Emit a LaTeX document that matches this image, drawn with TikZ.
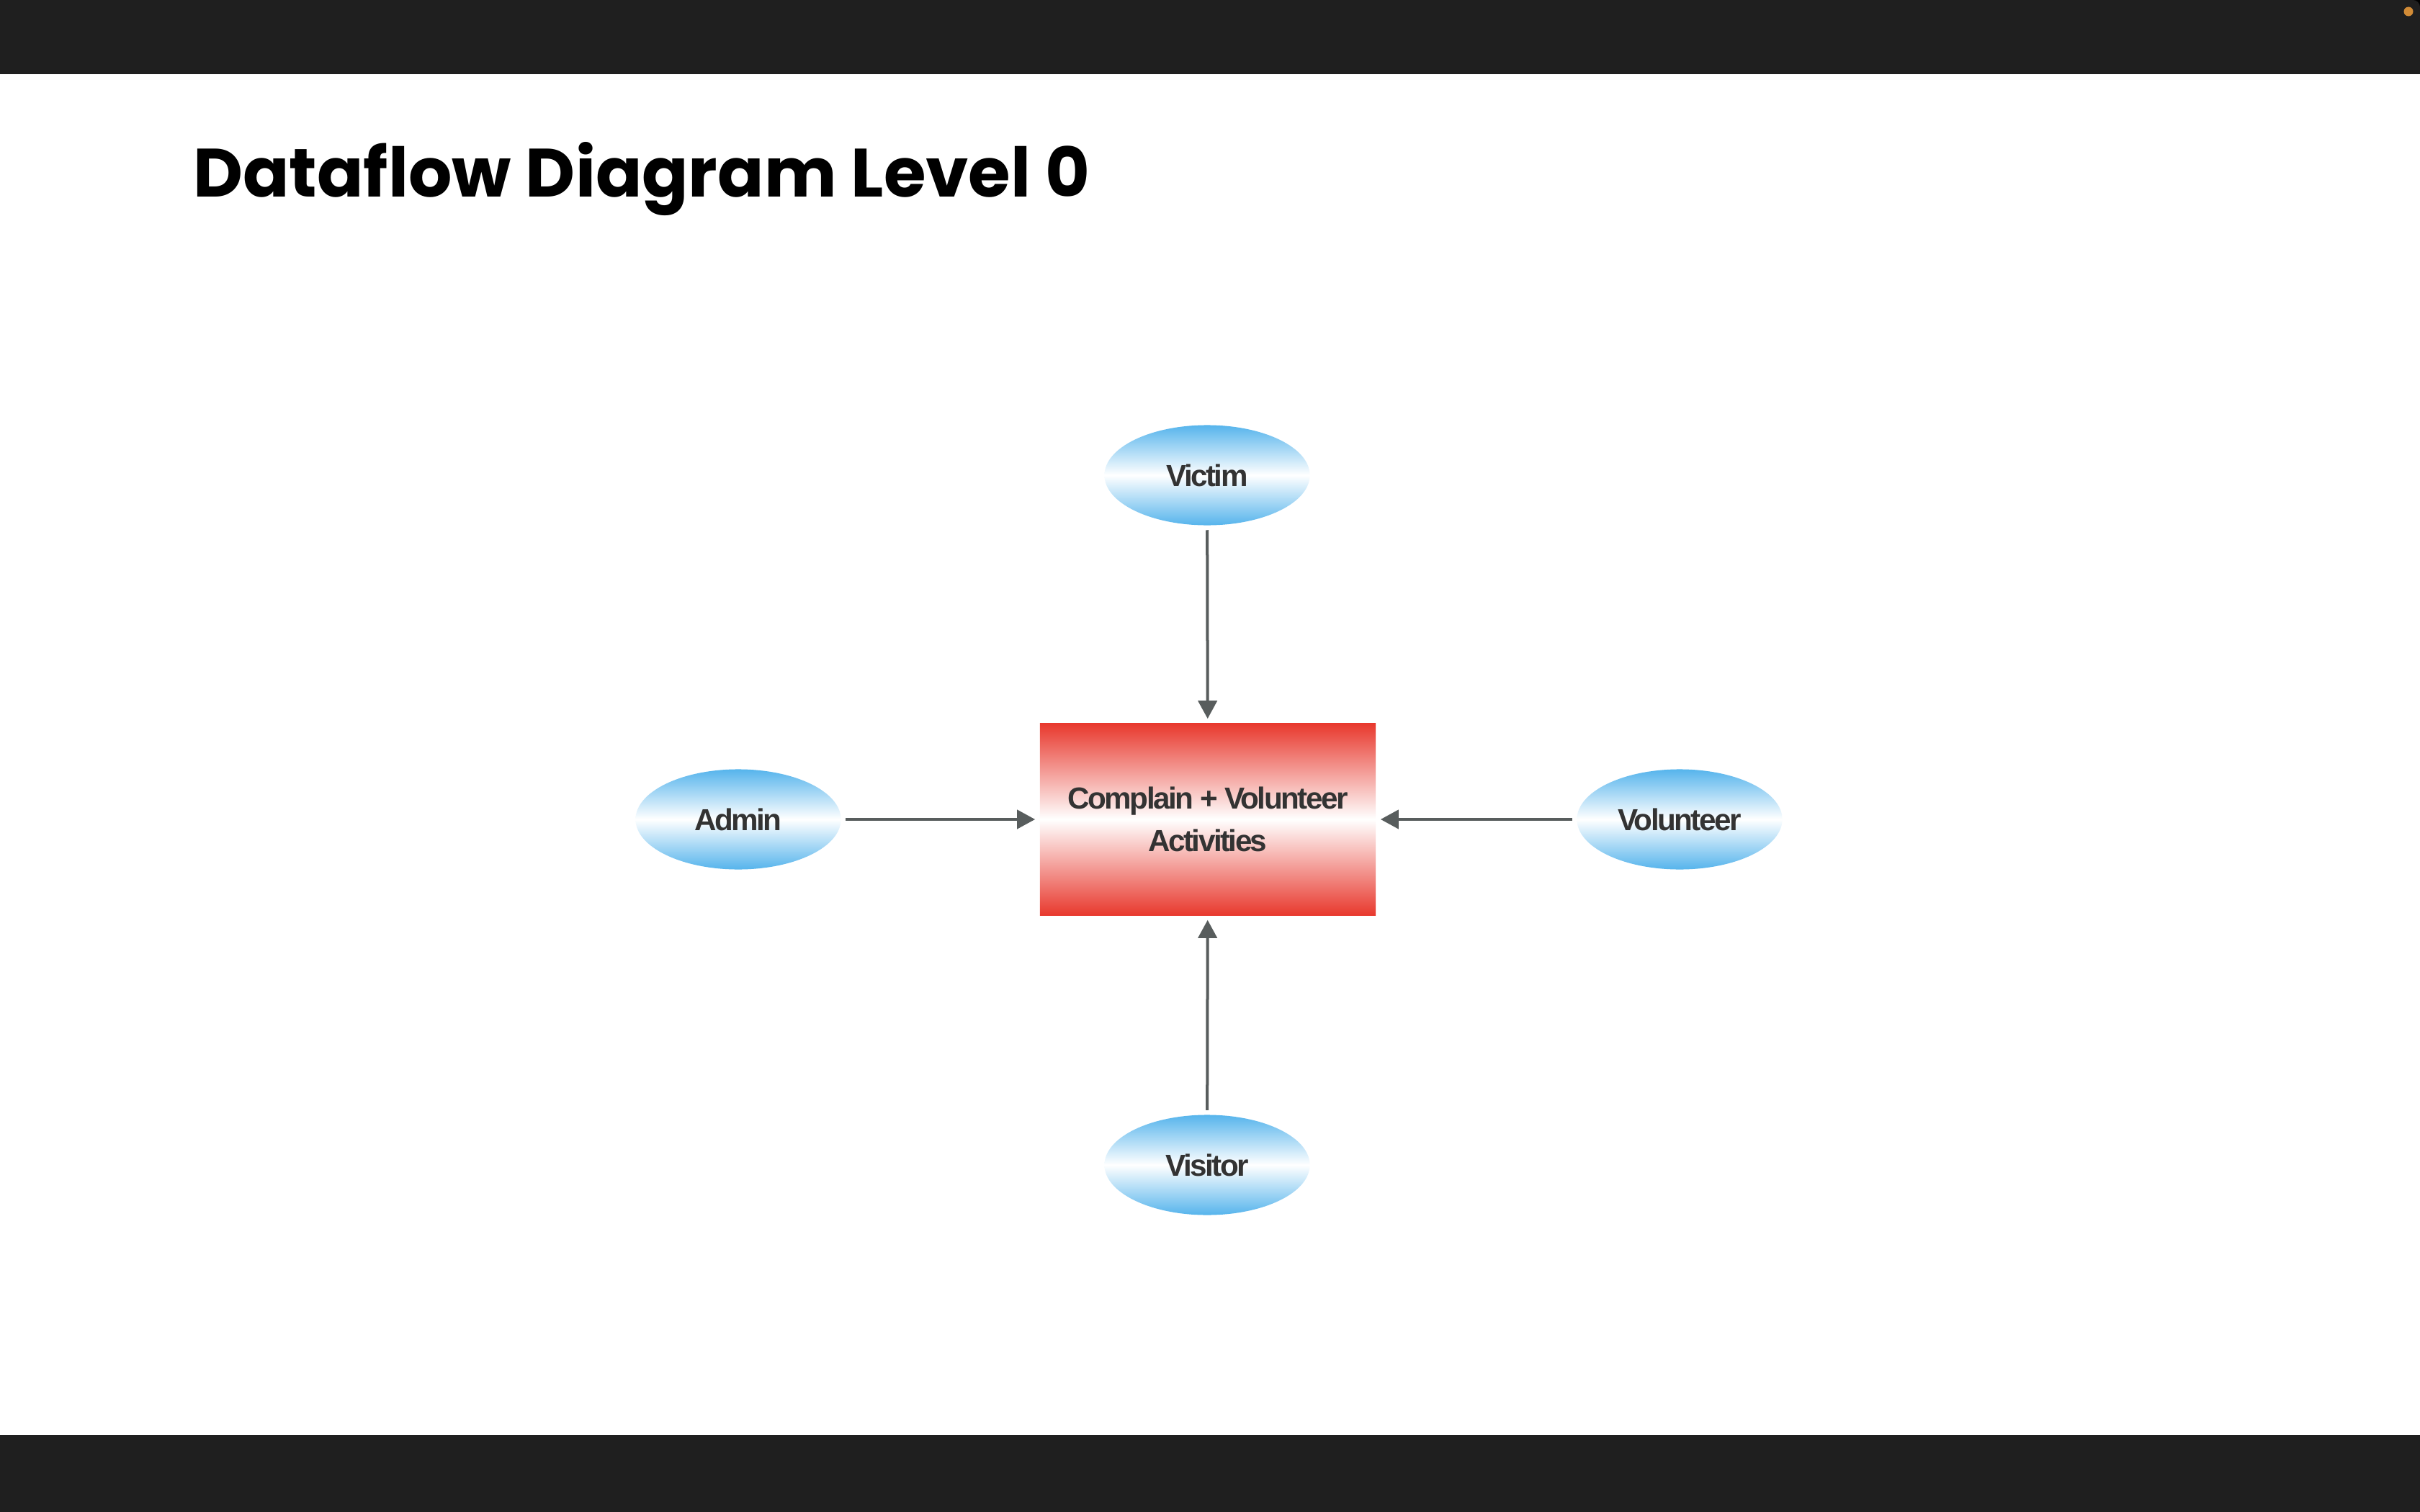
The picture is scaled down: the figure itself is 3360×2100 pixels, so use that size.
\documentclass[tikz,border=0pt]{standalone}
\usepackage{fontspec}
\usepackage{tikz}
\usetikzlibrary{arrows.meta}
\usetikzlibrary{shapes}
\newfontfamily\titlefont{Poppins}
\newfontfamily\labelfont{Liberation Sans}[LetterSpace=-6]
\definecolor{barcol}{HTML}{1F1F1F}
\definecolor{dotcol}{HTML}{D18B36}
\definecolor{entblue}{HTML}{56B4EC}
\definecolor{procred}{HTML}{E8392E}
\definecolor{flowcol}{HTML}{585D5D}
\definecolor{labelcol}{HTML}{333333}

\begin{document}
\begin{tikzpicture}[x=0.01cm,y=-0.01cm,
			every node/.style={text=labelcol,font=\labelfont\bfseries\fontsize{12pt}{17pt}\selectfont},
			entity/.style={ellipse,inner sep=0pt,minimum width=2.85cm,minimum height=1.39cm,
				top color=entblue,bottom color=entblue,middle color=white},
			process/.style={rectangle,inner sep=0pt,minimum width=4.66cm,minimum height=2.66cm,
				top color=procred,bottom color=procred,middle color=white,align=center},
			flow/.style={draw=flowcol,line width=0.04cm,shorten <=0.06cm,shorten >=0.06cm,
				-{Triangle[length=0.25cm,width=0.26cm]}}]
			\useasboundingbox (0,0) rectangle (3360,2100);
			\fill[white] (0,0) rectangle (3360,2100);
			% window bars
			\fill[black] (3320,0) rectangle (3360,40);
			\fill[barcol,rounded corners=0.1cm] (0,0) -- (3360,0) -- (3360,103) -- (0,103) -- cycle;
			\fill[barcol] (0,0) rectangle (3300,103);
			\fill[barcol] (0,40) rectangle (3360,103);
			\fill[dotcol] (3344,16) circle (0.065cm);
			\fill[barcol] (0,1993) rectangle (3360,2100);
			
			\node[anchor=base west,text=black,font=\titlefont\bfseries\fontsize{27pt}{32pt}\selectfont] (title) at (256,274) {Dataflow Diagram Level 0};
			
			\node[process] (proc) at (1677,1138) {Complain + Volunteer\\Activities};
			\node[entity] (victim) at (1676,660) {Victim};
			\node[entity] (admin) at (1025,1138) {Admin};
			\node[entity] (volunteer) at (2332,1138) {Volunteer};
			\node[entity] (visitor) at (1676,1618) {Visitor};
			
			\draw[flow] (victim) -- (proc);
			\draw[flow] (admin) -- (proc);
			\draw[flow] (volunteer) -- (proc);
			\draw[flow] (visitor) -- (proc);
		\end{tikzpicture}
\end{document}
